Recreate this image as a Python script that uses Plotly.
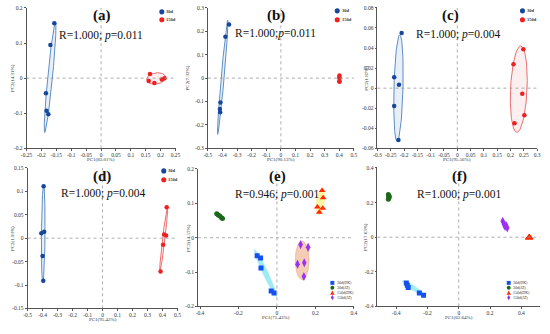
import numpy as np
import plotly.graph_objects as go

W, H = 550, 334
FONT = "Liberation Serif"

# ---------------- data ----------------
# (a)
a_30_x = [-0.157, -0.170, -0.185, -0.183, -0.177]
a_30_y = [0.156, 0.094, -0.043, -0.093, -0.103]
a_150_x = [0.164, 0.160, 0.179, 0.204, 0.213]
a_150_y = [0.012, -0.008, -0.014, -0.004, 0.000]
# (b)
b_30_x = [-0.355, -0.380, -0.414, -0.418, -0.416]
b_30_y = [0.229, 0.177, -0.104, -0.132, -0.146]
b_150_x = [0.401, 0.401, 0.401, 0.401, 0.401]
b_150_y = [0.011, 0.004, 0.001, -0.013, -0.015]
# (c)
c_30_x = [-0.209, -0.237, -0.219, -0.237, -0.221]
c_30_y = [0.0551, 0.0108, 0.0033, -0.0177, -0.0518]
c_150_x = [0.248, 0.211, 0.244, 0.252, 0.215]
c_150_y = [0.0387, 0.0239, -0.0056, -0.0269, -0.0351]
# (d)
d_30_x = [-0.393, -0.408, -0.389, -0.400, -0.395]
d_30_y = [0.111, 0.0105, 0.014, -0.038, -0.091]
d_150_x = [0.428, 0.411, 0.424, 0.404, 0.387]
d_150_y = [0.066, 0.008, 0.006, -0.014, -0.071]
# (e)
e_30dk_x = [-0.103, -0.085, -0.083, -0.030, -0.015]
e_30dk_y = [-0.0525, -0.059, -0.0885, -0.155, -0.161]
e_30jz_x = [-0.313, -0.305, -0.297, -0.288, -0.283]
e_30jz_y = [0.0695, 0.066, 0.063, 0.058, 0.056]
e_150dk_x = [0.235, 0.240, 0.210, 0.238, 0.220]
e_150dk_y = [0.137, 0.116, 0.089, 0.086, 0.074]
e_150jz_x = [0.123, 0.162, 0.107, 0.142, 0.140]
e_150jz_y = [-0.020, -0.028, -0.077, -0.073, -0.113]
# (f)
f_30dk_x = [-0.335, -0.329, -0.323, -0.252, -0.225]
f_30dk_y = [-0.264, -0.277, -0.290, -0.323, -0.335]
f_30jz_x = [-0.450, -0.446, -0.450, -0.444, -0.448]
f_30jz_y = [0.247, 0.228, 0.219, 0.237, 0.232]
f_150dk_x = [0.450, 0.452, 0.449, 0.451, 0.450]
f_150dk_y = [-0.002, 0.000, -0.003, -0.001, -0.002]
f_150jz_x = [0.281, 0.290, 0.302, 0.310, 0.296]
f_150jz_y = [0.092, 0.073, 0.069, 0.054, 0.062]

# ellipse parameters: [cx, cy, ax, ay, bx, by]
ell_a_30 = [-0.171, 0.0025, 0.018, 0.1575, 0.008, 0.0]
ell_a_150 = [0.185, -0.001, 0.032, 0.003, 0.0, 0.016]
ell_b_30 = [-0.3985, 0.004, 0.0345, 0.244, 0.01, 0.0]
ell_b_150 = [0.401, -0.002, 0.0, 0.015, 0.004, 0.0]
ell_c_30 = [-0.221, 0.0, 0.005, 0.053, 0.017, 0.0]
ell_c_150 = [0.231, -0.001, 0.007, 0.043, 0.031, 0.0]
ell_d_30 = [-0.3955, 0.0085, 0.0025, 0.1045, 0.012, 0.0]
ell_d_150 = [0.408, -0.002, 0.026, 0.071, 0.008, 0.0]
ell_e_30dk = [-0.0595, -0.103, 0.0575, -0.069, 0.011, 0.005]
ell_e_30jz = [-0.298, 0.063, 0.017, -0.008, 0.0, 0.004]
ell_e_150dk = [0.226, 0.105, 0.008, 0.038, 0.021, 0.0]
ell_e_150jz = [0.131, -0.066, 0.0, 0.056, 0.036, 0.0]
ell_f_30dk = [-0.2875, -0.295, 0.0725, -0.043, 0.008, 0.011]
ell_f_30jz = [-0.447, 0.233, 0.002, 0.02, 0.008, 0.0]
ell_f_150dk = [0.450, -0.002, 0.006, 0.0, 0.0, 0.006]
ell_f_150jz = [0.295, 0.072, 0.016, -0.022, 0.006, 0.004]

panel_labels = ["(a)", "(b)", "(c)", "(d)", "(e)", "(f)"]
stat_R = ["1.000", "1.000", "1.000", "1.000", "0.946", "1.000"]
stat_p = ["0.011", "0.011", "0.004", "0.004", "0.001", "0.001"]
stat_sep = ["; ", ";", "; ", "; ", "; ", "; "]
pc1_titles = ["PC1(83.01%)", "PC1(90.13%)", "PC1(95.56%)", "PC1(95.43%)", "PC1(75.43%)", "PC1(62.64%)"]
pc2_titles = ["PC2(14.31%)", "PC2(7.32%)", "PC2(1.87%)", "PC2(1.93%)", "PC2(14.57%)", "PC2(17.63%)"]

xt_a = [-0.25, -0.2, -0.15, -0.1, -0.05, 0, 0.05, 0.1, 0.15, 0.2, 0.25]
xl_a = ["-0.25", "-0.2", "-0.15", "-0.1", "-0.05", "0", "0.05", "0.1", "0.15", "0.2", "0.25"]
yt_a = [-0.2, -0.1, 0, 0.1, 0.2]
yl_a = ["-0.2", "-0.1", "0", "0.1", "0.2"]
xt_b = [-0.5, -0.4, -0.3, -0.2, -0.1, 0, 0.1, 0.2, 0.3, 0.4, 0.5]
xl_b = ["-0.5", "-0.4", "-0.3", "-0.2", "-0.1", "0", "0.1", "0.2", "0.3", "0.4", "0.5"]
yt_b = [-0.3, -0.2, -0.1, 0, 0.1, 0.2, 0.3]
yl_b = ["-0.3", "-0.2", "-0.1", "0", "0.1", "0.2", "0.3"]
xt_c = [-0.3, -0.25, -0.2, -0.15, -0.1, -0.05, 0, 0.05, 0.1, 0.15, 0.2, 0.25, 0.3]
xl_c = ["-0.3", "-0.25", "-0.2", "-0.15", "-0.1", "-0.05", "0", "0.05", "0.1", "0.15", "0.2", "0.25", "0.3"]
yt_c = [-0.06, -0.04, -0.02, 0, 0.02, 0.04, 0.06, 0.08]
yl_c = ["-0.06", "-0.04", "-0.02", "0", "0.02", "0.04", "0.06", "0.08"]
xt_d = xt_b
xl_d = xl_b
yt_d = [-0.15, -0.1, -0.05, 0, 0.05, 0.1, 0.15]
yl_d = ["-0.15", "-0.1", "-0.05", "0", "0.05", "0.1", "0.15"]
xt_e = [-0.4, -0.2, 0, 0.2, 0.4]
xl_e = ["-0.4", "-0.2", "0", "0.2", "0.4"]
yt_e = [-0.2, -0.1, 0, 0.1, 0.2]
yl_e = ["-0.2", "-0.1", "0", "0.1", "0.2"]
xt_f = [-0.4, -0.2, 0, 0.2, 0.4]
xl_f = ["-0.4", "-0.2", "0", "0.2", "0.4"]
yt_f = [-0.4, -0.2, 0, 0.2, 0.4]
yl_f = ["-0.4", "-0.2", "0", "0.2", "0.4"]

x_ranges = [[-0.25, 0.25], [-0.5, 0.5], [-0.3, 0.3], [-0.5, 0.5], [-0.41, 0.4], [-0.52, 0.52]]
y_ranges = [[-0.2, 0.2], [-0.3, 0.3], [-0.06, 0.08], [-0.15, 0.15], [-0.2, 0.2], [-0.4, 0.4]]
x_ticks = [(xt_a, xl_a), (xt_b, xl_b), (xt_c, xl_c), (xt_d, xl_d), (xt_e, xl_e), (xt_f, xl_f)]
y_ticks = [(yt_a, yl_a), (yt_b, yl_b), (yt_c, yl_c), (yt_d, yl_d), (yt_e, yl_e), (yt_f, yl_f)]

legend2 = ["30d", "150d"]
legend4 = ["30d(DK)", "30d(JZ)", "150d(DK)", "150d(JZ)"]

# ---------------- layout geometry (pixels) ----------------
px_boxes = [(21, 173, 5, 148), (206, 355, 5, 148), (379, 542, 5, 148),
            (22, 175, 168, 311), (196, 355, 169, 309), (379, 545, 168, 309)]

BLUE = "#16479a"
RED = "#ee2020"
C_DK = "#1550f0"
C_JZ = "#1b6a1b"
C_150DK = "#ff2a00"
C_150JZ = "#9a32f0"

fig = go.Figure()


def ax_names(i):
    s = "" if i == 0 else str(i + 1)
    return "x" + s, "y" + s


def ellipse(i, p, line_color, fill_color, width=1):
    cx, cy, ax, ay, bx, by = p
    t = np.linspace(0, 2 * np.pi, 120)
    xs = cx + ax * np.cos(t) + bx * np.sin(t)
    ys = cy + ay * np.cos(t) + by * np.sin(t)
    xa, ya = ax_names(i)
    fig.add_trace(go.Scatter(x=xs, y=ys, mode="lines", xaxis=xa, yaxis=ya,
                             line=dict(color=line_color, width=width),
                             fill="toself", fillcolor=fill_color,
                             showlegend=False, hoverinfo="skip"))


def pts(i, xs, ys, color, symbol="circle", size=5):
    xa, ya = ax_names(i)
    fig.add_trace(go.Scatter(x=xs, y=ys, mode="markers", xaxis=xa, yaxis=ya,
                             marker=dict(color=color, symbol=symbol, size=size, line=dict(width=0)),
                             showlegend=False))


EB_L, EB_F = "#5d8fc4", "rgba(190,210,235,0.35)"
ER_L, ER_F = "#ea6f6f", "rgba(250,210,210,0.35)"

two_group = [
    (a_30_x, a_30_y, a_150_x, a_150_y, ell_a_30, ell_a_150),
    (b_30_x, b_30_y, b_150_x, b_150_y, ell_b_30, ell_b_150),
    (c_30_x, c_30_y, c_150_x, c_150_y, ell_c_30, ell_c_150),
    (d_30_x, d_30_y, d_150_x, d_150_y, ell_d_30, ell_d_150),
]
for i, (x1, y1, x2, y2, e1, e2) in enumerate(two_group):
    ellipse(i, e1, EB_L, EB_F)
    ellipse(i, e2, ER_L, ER_F)
    pts(i, x1, y1, BLUE, size=4.5)
    pts(i, x2, y2, RED, size=4.5)

# (e)
ellipse(4, ell_e_30dk, "#a6eef5", "rgba(150,232,242,0.9)", 0.5)
ellipse(4, ell_e_30jz, "#2f7a2f", "rgba(60,130,60,0.4)", 0.5)
ellipse(4, ell_e_150dk, "#f7ef9a", "rgba(250,244,150,0.9)", 0.5)
ellipse(4, ell_e_150jz, "#eab393", "rgba(242,196,170,0.85)", 0.7)
pts(4, e_30dk_x, e_30dk_y, C_DK, "square", 5)
pts(4, e_30jz_x, e_30jz_y, C_JZ, "circle", 5)
pts(4, e_150dk_x, e_150dk_y, C_150DK, "triangle-up", 6)
pts(4, e_150jz_x, e_150jz_y, C_150JZ, "diamond-tall", 6.5)
# (f)
ellipse(5, ell_f_30dk, "#a6eef5", "rgba(150,232,242,0.9)", 0.5)
ellipse(5, ell_f_30jz, "#2f7a2f", "rgba(60,130,60,0.4)", 0.5)
ellipse(5, ell_f_150dk, "#f7ef9a", "rgba(250,244,150,0.9)", 0.5)
ellipse(5, ell_f_150jz, "#eab393", "rgba(242,196,170,0.85)", 0.5)
pts(5, f_30dk_x, f_30dk_y, C_DK, "square", 5)
pts(5, f_30jz_x, f_30jz_y, C_JZ, "circle", 5)
pts(5, f_150dk_x, f_150dk_y, C_150DK, "triangle-up", 7)
pts(5, f_150jz_x, f_150jz_y, C_150JZ, "diamond-tall", 6.5)

layout = dict(width=W, height=H, margin=dict(l=0, r=0, t=0, b=0),
              paper_bgcolor="white", plot_bgcolor="white", showlegend=False,
              font=dict(family=FONT, color="#222"))
shapes = []
annotations = []


def px(x):
    return x / W


def py(y):
    return 1 - y / H


def ann(text, x, y, size, color="#111", family=FONT, xanchor="center", angle=0):
    annotations.append(dict(text=text, x=px(x), y=py(y), xref="paper", yref="paper",
                            xanchor=xanchor, yanchor="middle", showarrow=False,
                            textangle=angle, borderpad=0,
                            font=dict(family=family, size=size, color=color)))


def legend_marker(kind, cx, cy, r, color):
    """Legend key drawn as a paper-space shape centred at pixel (cx, cy)."""
    base = dict(xref="paper", yref="paper", fillcolor=color, line=dict(width=0), layer="above")
    if kind == "circle":
        shapes.append(dict(type="circle", x0=px(cx - r), x1=px(cx + r), y0=py(cy + r), y1=py(cy - r), **base))
    elif kind == "square":
        shapes.append(dict(type="rect", x0=px(cx - r), x1=px(cx + r), y0=py(cy + r), y1=py(cy - r), **base))
    elif kind == "triangle":
        pts_ = [(cx, cy - r * 1.1), (cx + r * 1.1, cy + r), (cx - r * 1.1, cy + r)]
        path = "M " + " L ".join(f"{px(a):.5f},{py(b):.5f}" for a, b in pts_) + " Z"
        shapes.append(dict(type="path", path=path, **base))
    elif kind == "diamond":
        pts_ = [(cx, cy - r * 1.3), (cx + r * 0.8, cy), (cx, cy + r * 1.3), (cx - r * 0.8, cy)]
        path = "M " + " L ".join(f"{px(a):.5f},{py(b):.5f}" for a, b in pts_) + " Z"
        shapes.append(dict(type="path", path=path, **base))


for i in range(6):
    x0, x1, y0, y1 = px_boxes[i]
    s = "" if i == 0 else str(i + 1)
    xa, ya = ax_names(i)
    axis_common = dict(showgrid=False, zeroline=False, showline=True, linecolor="#555",
                       linewidth=0.8, ticks="outside", ticklen=2, tickwidth=0.6, tickcolor="#555",
                       tickfont=dict(family=FONT, size=5.5, color="#333"), mirror=False)
    layout["xaxis" + s] = dict(domain=[px(x0), px(x1)], anchor=ya, range=x_ranges[i],
                               tickmode="array", tickvals=x_ticks[i][0], ticktext=x_ticks[i][1],
                               ticklabelstandoff=-1, **axis_common)
    layout["yaxis" + s] = dict(domain=[py(y1), py(y0)], anchor=xa, range=y_ranges[i],
                               tickmode="array", tickvals=y_ticks[i][0], ticktext=y_ticks[i][1],
                               **axis_common)
    # dotted zero lines
    shapes.append(dict(type="line", xref=xa, yref=ya + " domain", x0=0, x1=0, y0=0, y1=1,
                       line=dict(color="#999", width=0.8, dash="dot")))
    shapes.append(dict(type="line", xref=xa + " domain", yref=ya, x0=0, x1=1, y0=0, y1=0,
                       line=dict(color="#999", width=0.8, dash="dot")))
    cxp = (x0 + x1) / 2
    lab_x = [98, 275, 454, 98, 277, 463][i]
    lab_y = [13, 13, 13, 177, 177, 177][i]
    ann("<b>" + panel_labels[i] + "</b>", lab_x, lab_y, 15)
    st_x = [97, 275, 461, 99, 277, 462][i]
    st_y = [33, 31, 32, 194, 195, 195][i]
    ann("R=" + stat_R[i] + stat_sep[i] + "<i>p</i>=" + stat_p[i], st_x, st_y, 11.5)
    xt_y = y1 + 11
    ann(pc1_titles[i], cxp, xt_y, 5, "#333")
    yt_x = [6, 185, 367, 6, 186, 367][i]
    ann(pc2_titles[i], yt_x, (y0 + y1) / 2, 5, "#333", angle=-90)

# legends for (a)-(d)
leg_pos = [(159, 9, 17), (338, 8, 17), (527, 8, 17), (161, 171, 180)]
for (lx, r1, r2) in leg_pos:
    for lab, col, ry in zip(legend2, [BLUE, RED], [r1, r2]):
        legend_marker("circle", lx, ry, 2.6, col)
        ann("<b>" + lab + "</b>", lx + 3.5, ry, 4.5, "#333", xanchor="left")

# legends for (e), (f)
kinds = ["square", "circle", "triangle", "diamond"]
gcols = [C_DK, C_JZ, C_150DK, C_150JZ]
rows = [285, 290, 295, 300]
for lx in [333, 513]:
    for lab, k, col, ry in zip(legend4, kinds, gcols, rows):
        legend_marker(k, lx, ry, 2.0, col)
        ann(lab, lx + 3.5, ry, 4, "#333", xanchor="left")

layout["shapes"] = shapes
layout["annotations"] = annotations
fig.update_layout(**layout)
fig.write_html("out.html", config={"displayModeBar": False},
               post_script="document.body.style.margin='0';document.body.style.padding='0';")
